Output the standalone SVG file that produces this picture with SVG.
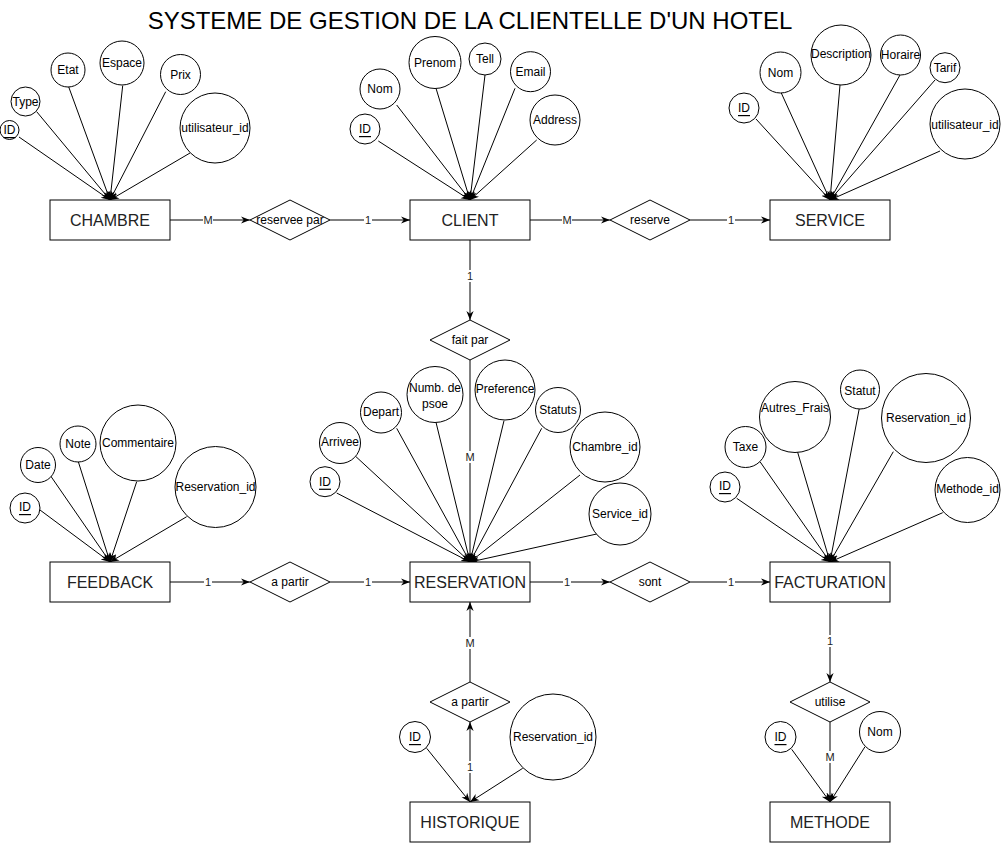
<svg xmlns="http://www.w3.org/2000/svg" width="1001" height="843" viewBox="0 0 1001 843">
<style>
text{font-family:"Liberation Sans",Arial,sans-serif;fill:#000;text-anchor:middle;dominant-baseline:central}
.ent rect{fill:#fff;stroke:#000;stroke-width:1}
.ent text{font-size:16px;fill:#222}
.rel polygon{fill:#fff;stroke:#000;stroke-width:1}
.rel text{font-size:12px}
.att circle{fill:#fff;stroke:#000;stroke-width:1}
.att text{font-size:12px}
.u{text-decoration:underline}
#connectors line{stroke:#000;stroke-width:1;fill:none}
.lbl rect{fill:#fff}
.lbl text{font-size:11px;fill:#222}
.title{font-size:24px}
</style>
<defs>
<marker id="arr" viewBox="0 0 10 10" refX="10" refY="5" markerWidth="9" markerHeight="9" markerUnits="userSpaceOnUse" orient="auto">
<path d="M0,1 L10,5 L0,9 L3,5 Z" fill="#000"/>
</marker>
</defs>
<rect width="1001" height="843" fill="#fff"/>
<text class="title" x="470" y="20">SYSTEME DE GESTION DE LA CLIENTELLE D'UN HOTEL</text>

<g id="connectors">
<!-- attribute links CHAMBRE -->
<line x1="19" y1="137" x2="110" y2="200" marker-end="url(#arr)"/>
<line x1="36.7" y1="111.7" x2="110" y2="200" marker-end="url(#arr)"/>
<line x1="68" y1="85" x2="110" y2="200" marker-end="url(#arr)"/>
<line x1="122.7" y1="85.7" x2="110" y2="200" marker-end="url(#arr)"/>
<line x1="165.7" y1="91.7" x2="110" y2="200" marker-end="url(#arr)"/>
<line x1="190" y1="153" x2="110" y2="200" marker-end="url(#arr)"/>
<!-- CLIENT -->
<line x1="378.3" y1="141" x2="470" y2="200" marker-end="url(#arr)"/>
<line x1="396.7" y1="105" x2="470" y2="200" marker-end="url(#arr)"/>
<line x1="436" y1="88.3" x2="470" y2="200" marker-end="url(#arr)"/>
<line x1="485" y1="75" x2="470" y2="200" marker-end="url(#arr)"/>
<line x1="515" y1="88.3" x2="470" y2="200" marker-end="url(#arr)"/>
<line x1="536.7" y1="140" x2="470" y2="200" marker-end="url(#arr)"/>
<!-- SERVICE -->
<line x1="756" y1="119" x2="830" y2="200" marker-end="url(#arr)"/>
<line x1="780.7" y1="91.7" x2="830" y2="200" marker-end="url(#arr)"/>
<line x1="840" y1="85" x2="830" y2="200" marker-end="url(#arr)"/>
<line x1="900" y1="75" x2="830" y2="200" marker-end="url(#arr)"/>
<line x1="935" y1="80" x2="830" y2="200" marker-end="url(#arr)"/>
<line x1="940" y1="151" x2="830" y2="200" marker-end="url(#arr)"/>
<!-- RESERVATION -->
<line x1="336.7" y1="493" x2="470" y2="562" marker-end="url(#arr)"/>
<line x1="356" y1="456.7" x2="470" y2="562" marker-end="url(#arr)"/>
<line x1="396.7" y1="428.3" x2="470" y2="562" marker-end="url(#arr)"/>
<line x1="436" y1="422.3" x2="470" y2="562" marker-end="url(#arr)"/>
<line x1="504" y1="420.7" x2="470" y2="562" marker-end="url(#arr)"/>
<line x1="541.7" y1="428.3" x2="470" y2="562" marker-end="url(#arr)"/>
<line x1="580" y1="475" x2="470" y2="562" marker-end="url(#arr)"/>
<line x1="596.7" y1="534" x2="470" y2="562" marker-end="url(#arr)"/>
<!-- FEEDBACK -->
<line x1="40" y1="510" x2="110" y2="562" marker-end="url(#arr)"/>
<line x1="50" y1="475" x2="110" y2="562" marker-end="url(#arr)"/>
<line x1="78.3" y1="461.7" x2="110" y2="562" marker-end="url(#arr)"/>
<line x1="136.7" y1="481.7" x2="110" y2="562" marker-end="url(#arr)"/>
<line x1="186.7" y1="516.7" x2="110" y2="562" marker-end="url(#arr)"/>
<!-- FACTURATION -->
<line x1="736.7" y1="498.3" x2="830" y2="562" marker-end="url(#arr)"/>
<line x1="760" y1="461.7" x2="830" y2="562" marker-end="url(#arr)"/>
<line x1="795" y1="443.3" x2="830" y2="562" marker-end="url(#arr)"/>
<line x1="859.3" y1="408.3" x2="830" y2="562" marker-end="url(#arr)"/>
<line x1="893.3" y1="451.7" x2="830" y2="562" marker-end="url(#arr)"/>
<line x1="942.7" y1="512.7" x2="830" y2="562" marker-end="url(#arr)"/>
<!-- HISTORIQUE -->
<line x1="426.7" y1="748.3" x2="470" y2="802" marker-end="url(#arr)"/>
<line x1="522.7" y1="768.3" x2="470" y2="802" marker-end="url(#arr)"/>
<!-- METHODE -->
<line x1="791.7" y1="749.3" x2="830" y2="802" marker-end="url(#arr)"/>
<line x1="865" y1="746.7" x2="830" y2="802" marker-end="url(#arr)"/>

<!-- relationship edges -->
<line x1="170" y1="220" x2="250" y2="220" marker-end="url(#arr)"/>
<line x1="330" y1="220" x2="410" y2="220" marker-end="url(#arr)"/>
<line x1="530" y1="220" x2="610" y2="220" marker-end="url(#arr)"/>
<line x1="690" y1="220" x2="770" y2="220" marker-end="url(#arr)"/>
<line x1="470" y1="240" x2="470" y2="320" marker-end="url(#arr)"/>
<line x1="470" y1="360" x2="470" y2="562" marker-end="url(#arr)"/>
<line x1="170" y1="582" x2="250" y2="582" marker-end="url(#arr)"/>
<line x1="330" y1="582" x2="410" y2="582" marker-end="url(#arr)"/>
<line x1="530" y1="582" x2="610" y2="582" marker-end="url(#arr)"/>
<line x1="690" y1="582" x2="770" y2="582" marker-end="url(#arr)"/>
<line x1="830" y1="602" x2="830" y2="682" marker-end="url(#arr)"/>
<line x1="830" y1="722" x2="830" y2="802" marker-end="url(#arr)"/>
<line x1="470" y1="682" x2="470" y2="602" marker-end="url(#arr)"/>
<line x1="470" y1="802" x2="470" y2="722" marker-end="url(#arr)"/>

<g class="lbl">
<rect x="203" y="214" width="10" height="12"/><text x="208" y="220">M</text>
<rect x="364" y="214" width="8" height="12"/><text x="368" y="220">1</text>
<rect x="562" y="214" width="10" height="12"/><text x="567" y="220">M</text>
<rect x="727" y="214" width="8" height="12"/><text x="731" y="220">1</text>
<rect x="466" y="270" width="8" height="12"/><text x="470" y="276">1</text>
<rect x="465" y="451" width="10" height="12"/><text x="470" y="457">M</text>
<rect x="204" y="576" width="8" height="12"/><text x="208" y="582">1</text>
<rect x="364" y="576" width="8" height="12"/><text x="368" y="582">1</text>
<rect x="563" y="576" width="8" height="12"/><text x="567" y="582">1</text>
<rect x="727" y="576" width="8" height="12"/><text x="731" y="582">1</text>
<rect x="826" y="635" width="8" height="12"/><text x="830" y="641">1</text>
<rect x="825" y="751" width="10" height="12"/><text x="830" y="757">M</text>
<rect x="465" y="637" width="10" height="12"/><text x="470" y="643">M</text>
<rect x="466" y="761" width="8" height="12"/><text x="470" y="767">1</text>
</g>
</g>

<g id="chambre" class="ent"><rect x="50" y="200" width="120" height="40"/><text x="110" y="220">CHAMBRE</text></g>
<g id="client" class="ent"><rect x="410" y="200" width="120" height="40"/><text x="470" y="220">CLIENT</text></g>
<g id="service" class="ent"><rect x="770" y="200" width="120" height="40"/><text x="830" y="220">SERVICE</text></g>
<g id="feedback" class="ent"><rect x="50" y="562" width="120" height="40"/><text x="110" y="582">FEEDBACK</text></g>
<g id="reservation" class="ent"><rect x="410" y="562" width="120" height="40"/><text x="470" y="582">RESERVATION</text></g>
<g id="facturation" class="ent"><rect x="770" y="562" width="120" height="40"/><text x="830" y="582">FACTURATION</text></g>
<g id="historique" class="ent"><rect x="410" y="802" width="120" height="40"/><text x="470" y="822">HISTORIQUE</text></g>
<g id="methode" class="ent"><rect x="770" y="802" width="120" height="40"/><text x="830" y="822">METHODE</text></g>

<g id="rel-reservee-par" class="rel"><polygon points="250,220 290,200 330,220 290,240"/><text x="290" y="220">reservee par</text></g>
<g id="rel-reserve" class="rel"><polygon points="610,220 650,200 690,220 650,240"/><text x="650" y="220">reserve</text></g>
<g id="rel-fait-par" class="rel"><polygon points="430,340 470,320 510,340 470,360"/><text x="470" y="340">fait par</text></g>
<g id="rel-a-partir-1" class="rel"><polygon points="250,582 290,562 330,582 290,602"/><text x="290" y="582">a partir</text></g>
<g id="rel-sont" class="rel"><polygon points="610,582 650,562 690,582 650,602"/><text x="650" y="582">sont</text></g>
<g id="rel-a-partir-2" class="rel"><polygon points="430,702 470,682 510,702 470,722"/><text x="470" y="702">a partir</text></g>
<g id="rel-utilise" class="rel"><polygon points="790,702 830,682 870,702 830,722"/><text x="830" y="702">utilise</text></g>

<!-- CHAMBRE attributes -->
<g id="ch-id" class="att"><circle cx="9.5" cy="130" r="9.5"/><text class="u" x="9.5" y="130">ID</text></g>
<g id="ch-type" class="att"><circle cx="25.5" cy="101.5" r="14.5"/><text x="25.5" y="101.5">Type</text></g>
<g id="ch-etat" class="att"><circle cx="68" cy="70" r="17"/><text x="68" y="70">Etat</text></g>
<g id="ch-espace" class="att"><circle cx="122" cy="63" r="22"/><text x="122" y="63">Espace</text></g>
<g id="ch-prix" class="att"><circle cx="180.5" cy="74.5" r="20"/><text x="180.5" y="75">Prix</text></g>
<g id="ch-util" class="att"><circle cx="215" cy="128" r="35"/><text x="215" y="128">utilisateur_id</text></g>

<!-- CLIENT attributes -->
<g id="cl-id" class="att"><circle cx="365" cy="129" r="15"/><text class="u" x="365" y="129">ID</text></g>
<g id="cl-nom" class="att"><circle cx="380" cy="89" r="20"/><text x="380" y="89">Nom</text></g>
<g id="cl-prenom" class="att"><circle cx="435" cy="62.5" r="26"/><text x="435" y="62.5">Prenom</text></g>
<g id="cl-tell" class="att"><circle cx="485" cy="59" r="16"/><text x="485" y="59">Tell</text></g>
<g id="cl-email" class="att"><circle cx="530.5" cy="71.7" r="20"/><text x="530.5" y="72">Email</text></g>
<g id="cl-address" class="att"><circle cx="555" cy="120" r="25"/><text x="555" y="120">Address</text></g>

<!-- SERVICE attributes -->
<g id="se-id" class="att"><circle cx="744" cy="108" r="15"/><text class="u" x="744" y="108">ID</text></g>
<g id="se-nom" class="att"><circle cx="780.5" cy="72.5" r="20.5"/><text x="780.5" y="73">Nom</text></g>
<g id="se-desc" class="att"><circle cx="841" cy="55" r="30"/><text x="841" y="54">Description</text></g>
<g id="se-horaire" class="att"><circle cx="900.5" cy="55" r="20"/><text x="900.5" y="54.5">Horaire</text></g>
<g id="se-tarif" class="att"><circle cx="945" cy="67.7" r="15"/><text x="945" y="67.7">Tarif</text></g>
<g id="se-util" class="att"><circle cx="965" cy="124" r="35"/><text x="965" y="125">utilisateur_id</text></g>

<!-- RESERVATION attributes -->
<g id="re-id" class="att"><circle cx="325" cy="481.7" r="15"/><text class="u" x="325" y="481.7">ID</text></g>
<g id="re-arrivee" class="att"><circle cx="340" cy="443" r="20.5"/><text x="340" y="442">Arrivee</text></g>
<g id="re-depart" class="att"><circle cx="381" cy="412.5" r="20.5"/><text x="381" y="412">Depart</text></g>
<g id="re-numb" class="att"><circle cx="435" cy="394.5" r="28"/><text x="435" y="388">Numb. de</text><text x="435" y="404">psoe</text></g>
<g id="re-pref" class="att"><circle cx="505" cy="390" r="30"/><text x="505" y="389">Preference</text></g>
<g id="re-statuts" class="att"><circle cx="558" cy="410" r="22.5"/><text x="558" y="410">Statuts</text></g>
<g id="re-chambre" class="att"><circle cx="605" cy="447" r="35"/><text x="605" y="446.5">Chambre_id</text></g>
<g id="re-service" class="att"><circle cx="620" cy="514" r="31"/><text x="620" y="514">Service_id</text></g>

<!-- FEEDBACK attributes -->
<g id="fb-id" class="att"><circle cx="25" cy="508" r="15"/><text class="u" x="25" y="507">ID</text></g>
<g id="fb-date" class="att"><circle cx="38" cy="465" r="17.5"/><text x="38" y="465">Date</text></g>
<g id="fb-note" class="att"><circle cx="78" cy="444" r="18"/><text x="78" y="444">Note</text></g>
<g id="fb-comm" class="att"><circle cx="138" cy="443" r="38"/><text x="138" y="443">Commentaire</text></g>
<g id="fb-resid" class="att"><circle cx="215.5" cy="487" r="40.5"/><text x="215.5" y="487">Reservation_id</text></g>

<!-- FACTURATION attributes -->
<g id="fa-id" class="att"><circle cx="725" cy="487" r="15"/><text class="u" x="725" y="486">ID</text></g>
<g id="fa-taxe" class="att"><circle cx="745.5" cy="447" r="20.5"/><text x="745.5" y="447">Taxe</text></g>
<g id="fa-autres" class="att"><circle cx="795" cy="417" r="35.5"/><text x="795" y="408">Autres_Frais</text></g>
<g id="fa-statut" class="att"><circle cx="860" cy="389.5" r="19.5"/><text x="860" y="391">Statut</text></g>
<g id="fa-resid" class="att"><circle cx="926" cy="418" r="44.5"/><text x="926" y="418">Reservation_id</text></g>
<g id="fa-methode" class="att"><circle cx="967.5" cy="490" r="32.5"/><text x="967.5" y="488.5">Methode_id</text></g>

<!-- HISTORIQUE attributes -->
<g id="hi-id" class="att"><circle cx="415" cy="737" r="15.5"/><text class="u" x="415" y="737">ID</text></g>
<g id="hi-resid" class="att"><circle cx="553" cy="737" r="43"/><text x="553" y="737">Reservation_id</text></g>

<!-- METHODE attributes -->
<g id="me-id" class="att"><circle cx="780.5" cy="737" r="15.5"/><text class="u" x="780.5" y="737">ID</text></g>
<g id="me-nom" class="att"><circle cx="880" cy="732" r="20.5"/><text x="880" y="731.7">Nom</text></g>
</svg>
